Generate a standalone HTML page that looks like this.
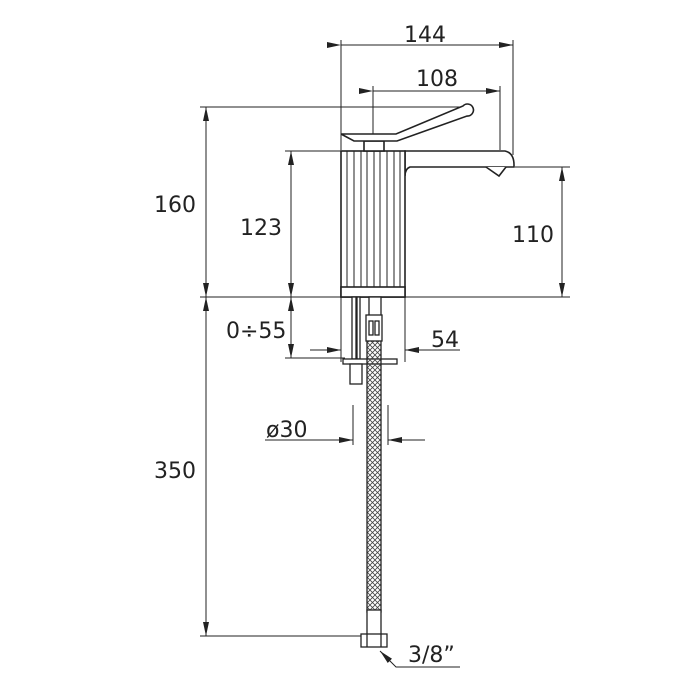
<!DOCTYPE html>
<html><head><style>body{margin:0;background:#fff}svg{display:block}text{font-family:"DejaVu Sans","Liberation Sans",sans-serif;font-size:22px;fill:#222}</style></head><body>
<svg width="700" height="700" viewBox="0 0 700 700" xmlns="http://www.w3.org/2000/svg">
<defs>
<marker id="a" markerWidth="14" markerHeight="8" refX="14" refY="4" orient="auto" markerUnits="userSpaceOnUse"><path d="M0,1 L14,4 L0,7 z" fill="#222"/></marker>
<pattern id="h" width="5" height="5" patternUnits="userSpaceOnUse"><path d="M0,5 L5,0 M0,0 L5,5" stroke="#444" stroke-width="0.8"/></pattern>
</defs>
<g stroke="#222" stroke-width="1" fill="none">
<line x1="341" y1="40" x2="341" y2="150"/><line x1="513" y1="40" x2="513" y2="155"/>
<line x1="373" y1="86" x2="373" y2="140"/><line x1="500" y1="86" x2="500" y2="150"/>
<line x1="200" y1="107" x2="470" y2="107"/>
<line x1="200" y1="297" x2="570" y2="297"/>
<line x1="285" y1="151" x2="341" y2="151"/>
<line x1="515" y1="167" x2="570" y2="167"/>
<line x1="200" y1="636" x2="362" y2="636"/>
<line x1="285" y1="358" x2="345" y2="358"/>
<line x1="341" y1="297" x2="341" y2="362"/><line x1="405" y1="297" x2="405" y2="362"/>
<line x1="353" y1="405" x2="353" y2="445"/><line x1="388" y1="405" x2="388" y2="445"/>
<line x1="341" y1="45" x2="513" y2="45" marker-start="url(#a)" marker-end="url(#a)"/>
<line x1="373" y1="91" x2="500" y2="91" marker-start="url(#a)" marker-end="url(#a)"/>
<line x1="206" y1="297" x2="206" y2="107" marker-end="url(#a)"/>
<line x1="206" y1="120" x2="206" y2="297" marker-end="url(#a)"/>
<line x1="291" y1="297" x2="291" y2="151" marker-end="url(#a)"/>
<line x1="291" y1="160" x2="291" y2="297" marker-end="url(#a)"/>
<line x1="562" y1="297" x2="562" y2="167" marker-end="url(#a)"/>
<line x1="562" y1="180" x2="562" y2="297" marker-end="url(#a)"/>
<line x1="206" y1="636" x2="206" y2="297" marker-end="url(#a)"/>
<line x1="206" y1="310" x2="206" y2="636" marker-end="url(#a)"/>
<line x1="291" y1="358" x2="291" y2="297" marker-end="url(#a)"/>
<line x1="291" y1="310" x2="291" y2="358" marker-end="url(#a)"/>
<line x1="310" y1="350" x2="341" y2="350" marker-end="url(#a)"/>
<line x1="460" y1="350" x2="405" y2="350" marker-end="url(#a)"/>
<line x1="265" y1="440" x2="353" y2="440" marker-end="url(#a)"/>
<line x1="425" y1="440" x2="388" y2="440" marker-end="url(#a)"/>
<polyline points="460,667 396,667 380,651" marker-end="url(#a)"/>
</g>
<g stroke="#222" stroke-width="1.6" fill="#fff">
<path d="M405,151 L505,151 Q514,153 514,165 L514,167 L410,167 Q405,169 405,176 Z"/>
<path d="M486,167 L499,176 L506,167" />
<rect x="341" y="151" width="64" height="146"/>
<rect x="341" y="287" width="64" height="10"/>
<rect x="364" y="141" width="20" height="10"/>
<path d="M341,134 L396,134 L463,106 A6,6 0 1 1 467,116 L397,141 L354,141 Z"/>
</g>
<g stroke="#222" stroke-width="1">
<line x1="347" y1="151" x2="347" y2="287"/><line x1="354" y1="151" x2="354" y2="287"/>
<line x1="361" y1="151" x2="361" y2="287"/><line x1="367" y1="151" x2="367" y2="287"/>
<line x1="374" y1="151" x2="374" y2="287"/><line x1="380" y1="151" x2="380" y2="287"/>
<line x1="387" y1="151" x2="387" y2="287"/><line x1="394" y1="151" x2="394" y2="287"/>
<line x1="400" y1="151" x2="400" y2="287"/>
</g>
<g stroke="#222" stroke-width="1.3" fill="#fff">
<rect x="352" y="297" width="4" height="62"/><rect x="357" y="297" width="3" height="62"/>
<rect x="369" y="297" width="12" height="20"/>
<rect x="343" y="359" width="54" height="5"/>
<rect x="350" y="364" width="12" height="20"/>
<rect x="367" y="340" width="14" height="272" fill="url(#h)"/>
<rect x="366" y="315" width="16" height="26"/>
<rect x="369" y="321" width="4" height="14"/><rect x="375" y="321" width="4" height="14"/>
<rect x="367" y="610" width="14" height="25"/>
<rect x="361" y="634" width="26" height="13"/>
<line x1="367" y1="634" x2="367" y2="647"/><line x1="381" y1="634" x2="381" y2="647"/>
</g>
<text x="404" y="42">144</text>
<text x="416" y="86">108</text>
<text x="154" y="212">160</text>
<text x="240" y="235">123</text>
<text x="512" y="242">110</text>
<text x="226" y="338">0÷55</text>
<text x="431" y="347">54</text>
<text x="266" y="437">ø30</text>
<text x="154" y="478">350</text>
<text x="408" y="662">3/8”</text>
</svg>
</body></html>
